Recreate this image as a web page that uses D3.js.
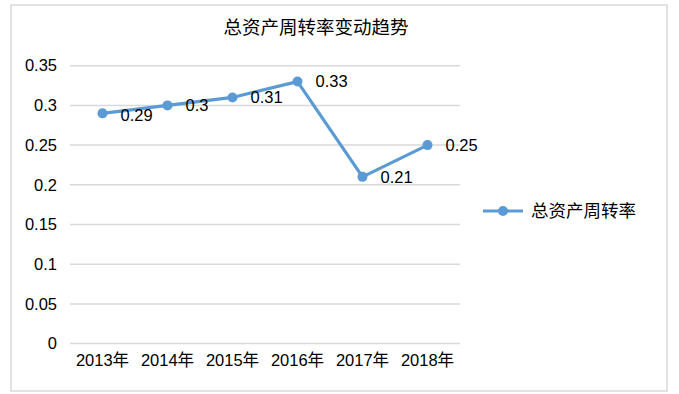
<!DOCTYPE html>
<html>
<head>
<meta charset="utf-8">
<script src="https://cdn.jsdelivr.net/npm/d3@7"></script>
<style>
  body { margin: 0; background: #fff; }
  svg text { fill: #000; }
</style>
</head>
<body>
<div id="viz"></div>
<script>
var years = ["2013年", "2014年", "2015年", "2016年", "2017年", "2018年"];
var turnover = [0.29, 0.30, 0.31, 0.33, 0.21, 0.25];
var labels = ["0.29", "0.3", "0.31", "0.33", "0.21", "0.25"];
var yTicks = [0, 0.05, 0.1, 0.15, 0.2, 0.25, 0.3, 0.35];
var yTickLabels = ["0", "0.05", "0.1", "0.15", "0.2", "0.25", "0.3", "0.35"];
var title = "总资产周转率变动趋势";
var seriesName = "总资产周转率";

var W = 679, H = 394,
    line_color = "#5b9bd5",
    grid_color = "#d9d9d9",
    num_font = "'Liberation Sans', sans-serif",
    cjk_font = "'Liberation Sans', 'Noto Sans CJK SC', sans-serif";

var plot = {left: 70, right: 460, top: 65.7, bottom: 343.6};

var svg = d3.select("#viz").append("svg")
    .attr("width", W).attr("height", H);

// outer border
svg.append("rect")
    .attr("x", 11).attr("y", 5)
    .attr("width", 656).attr("height", 386)
    .attr("fill", "#fff")
    .attr("stroke", grid_color)
    .attr("stroke-width", 1.5);

svg.append("text")
    .attr("x", 316).attr("y", 34)
    .attr("text-anchor", "middle")
    .style("font-family", "'Noto Sans CJK SC', sans-serif")
    .style("font-size", "18.5px")
    .text(title);

var x = d3.scaleBand().domain(years).range([plot.left, plot.right]);
var y = d3.scaleLinear().domain([0, 0.35]).range([plot.bottom, plot.top]);

/* gridlines */
svg.append("g").selectAll("line").data(yTicks).enter()
    .append("line")
    .attr("x1", plot.left).attr("x2", plot.right)
    .attr("y1", function(d) { return y(d); })
    .attr("y2", function(d) { return y(d); })
    .attr("stroke", grid_color)
    .attr("stroke-width", 1.5);

/* y axis */
var yAxis = d3.axisLeft(y).tickValues(yTicks).tickSize(0).tickPadding(13)
    .tickFormat(function(d, i) { return yTickLabels[i]; });
svg.append("g")
    .attr("transform", "translate(" + plot.left + ",0)")
    .call(yAxis)
    .call(function(g) { g.select(".domain").remove(); })
    .selectAll("text")
    .style("font-family", num_font)
    .style("font-size", "16.5px")
    .attr("fill", "#000");

/* x axis */
var xAxis = d3.axisBottom(x).tickSize(0).tickPadding(11);
svg.append("g")
    .attr("transform", "translate(0," + plot.bottom + ")")
    .call(xAxis)
    .call(function(g) { g.select(".domain").remove(); })
    .selectAll("text")
    .style("font-family", cjk_font)
    .style("font-size", "16.5px")
    .attr("fill", "#000");

/* line */
var pts = years.map(function(d, i) { return [x(d) + x.bandwidth() / 2, y(turnover[i])]; });
svg.append("path")
    .datum(pts)
    .attr("d", d3.line())
    .attr("fill", "none")
    .attr("stroke", line_color)
    .attr("stroke-width", 3.2)
    .attr("stroke-linejoin", "round");

svg.append("g").selectAll("circle").data(pts).enter()
    .append("circle")
    .attr("cx", function(d) { return d[0]; })
    .attr("cy", function(d) { return d[1]; })
    .attr("r", 5)
    .attr("fill", line_color);

/* data labels */
svg.append("g").selectAll("text").data(pts).enter()
    .append("text")
    .attr("x", function(d) { return d[0] + 18; })
    .attr("y", function(d, i) { return d[1] + (i === 0 ? 2 : 0); })
    .attr("dy", "0.35em")
    .style("font-family", num_font)
    .style("font-size", "16.5px")
    .text(function(d, i) { return labels[i]; });

/* legend */
var lg = svg.append("g").attr("transform", "translate(483,211)");
lg.append("line").attr("x1", 0).attr("x2", 40).attr("y1", 0).attr("y2", 0)
    .attr("stroke", line_color).attr("stroke-width", 3.2);
lg.append("circle").attr("cx", 20).attr("cy", 0).attr("r", 5).attr("fill", line_color);
lg.append("text").attr("x", 48).attr("y", 0).attr("dy", "0.35em")
    .style("font-family", "'Noto Sans CJK SC', sans-serif")
    .style("font-size", "17.5px")
    .text(seriesName);
</script>
</body>
</html>
